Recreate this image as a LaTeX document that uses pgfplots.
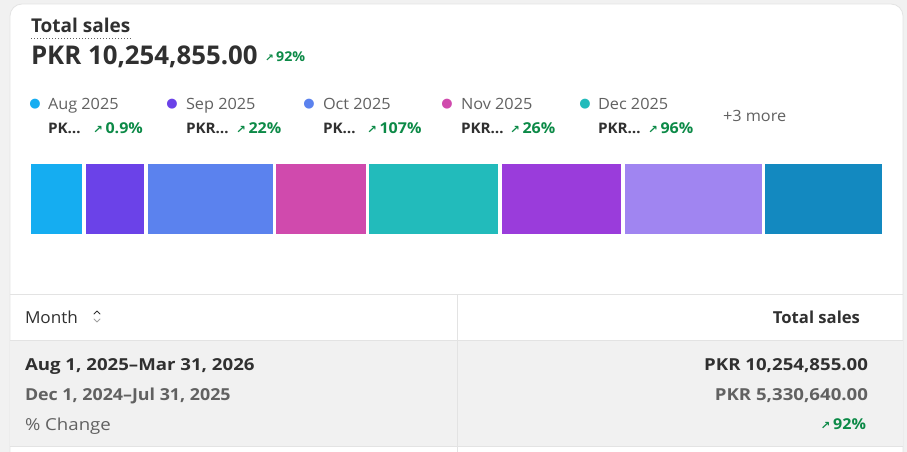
\documentclass[border=0pt]{standalone}
\usepackage{pgfplots}
\pgfplotsset{compat=1.18}
\usepackage{fontspec}
\setmainfont{Open Sans}
\newfontfamily\sym{DejaVu Sans}
\definecolor{bg}{HTML}{F1F1F1}
\definecolor{cardline}{HTML}{E3E3E3}
\definecolor{rowbg}{HTML}{F1F1F1}
\definecolor{txt}{HTML}{303030}
\definecolor{sub}{HTML}{616161}
\definecolor{grn}{HTML}{0C8A47}
\definecolor{cAug}{HTML}{15ADF1}
\definecolor{cSep}{HTML}{6B42E8}
\definecolor{cOct}{HTML}{5B82EE}
\definecolor{cNov}{HTML}{D04AAD}
\definecolor{cDec}{HTML}{22BBBB}
\definecolor{cJan}{HTML}{9A3CDB}
\definecolor{cFeb}{HTML}{A085F1}
\definecolor{cMar}{HTML}{1389C0}
\newcommand\fs[1]{\fontsize{#1}{#1}\selectfont}
\newcommand\up[1]{{\sym\fs{#1}\bfseries ↗}}
\newcommand\ldot[1]{{\sym\fs{13}\color{#1}●}}
\begin{document}
\begin{tikzpicture}[x=1pt,y=-1pt, every node/.style={inner sep=0pt, outer sep=0pt}]
\fill[bg] (0,0) rectangle (907,452);
\begin{scope}
\clip (0,0) rectangle (907,452);
\filldraw[fill=white, draw=cardline, line width=0.8pt, rounded corners=12pt] (10,4) rectangle (903,490);
% table
\fill[rowbg] (10,340) rectangle (903,446);
\draw[cardline, line width=1pt] (10,294) -- (903,294);
\draw[cardline, line width=1pt] (10,340) -- (903,340);
\draw[cardline, line width=1pt] (10,446) -- (903,446);
\draw[cardline, line width=1pt] (457,294) -- (457,452);
\end{scope}
% header
\node[anchor=base west, text=txt, font=\fs{19}\bfseries] at (31,33) {Total sales};
\draw[sub, line width=0.8pt, dash pattern=on 1pt off 2pt] (31,38) -- (131,38);
\node[anchor=base west, text=txt, font=\fs{25.8}\bfseries] at (31,65) {PKR 10,254,855.00};
\node[anchor=base west, text=grn, font=\fs{13.5}\bfseries, xscale=1.05] at (265,61.5) {\up{10}\,92\%};
% legend
\node at (35,104) {\ldot{cAug}};
\node at (172,104) {\ldot{cSep}};
\node at (309,104) {\ldot{cOct}};
\node at (447,104) {\ldot{cNov}};
\node at (585,104) {\ldot{cDec}};
\begin{scope}[every node/.append style={anchor=base west, text=sub, font=\fs{15.5}, xscale=1.05}]
\node at (48,109) {Aug 2025};
\node at (186,109) {Sep 2025};
\node at (323,109) {Oct 2025};
\node at (461,109) {Nov 2025};
\node at (598,109) {Dec 2025};
\node at (723,121.5) {+3 more};
\end{scope}
\begin{scope}[every node/.append style={anchor=base west, text=txt, font=\fs{14.5}\bfseries, xscale=1.05}]
\node at (48,133) {PK…};
\node at (186,133) {PKR…};
\node at (323,133) {PK…};
\node at (461,133) {PKR…};
\node at (598,133) {PKR…};
\end{scope}
\begin{scope}[every node/.append style={anchor=base west, text=grn, font=\fs{15}\bfseries, xscale=1.07}]
\node at (93,133) {\up{11}\,0.9\%};
\node at (236,133) {\up{11}\,22\%};
\node at (367,133) {\up{11}\,107\%};
\node at (510,133) {\up{11}\,26\%};
\node at (648,133) {\up{11}\,96\%};
\end{scope}
% bar
\begin{axis}[at={(29.25pt,-235.75pt)}, anchor=south west, scale only axis,
  width=854.5pt, height=73.5pt, hide axis, clip=false,
  xmin=0, xmax=10255000, ymin=-1, ymax=1,
  xbar stacked, bar width=73.5pt]
\addplot[fill=cAug, draw=white, line width=3.5pt] coordinates {(657000,0)};
\addplot[fill=cSep, draw=white, line width=3.5pt] coordinates {(744000,0)};
\addplot[fill=cOct, draw=white, line width=3.5pt] coordinates {(1542000,0)};
\addplot[fill=cNov, draw=white, line width=3.5pt] coordinates {(1116000,0)};
\addplot[fill=cDec, draw=white, line width=3.5pt] coordinates {(1590000,0)};
\addplot[fill=cJan, draw=white, line width=3.5pt] coordinates {(1476000,0)};
\addplot[fill=cFeb, draw=white, line width=3.5pt] coordinates {(1686000,0)};
\addplot[fill=cMar, draw=white, line width=3.5pt] coordinates {(1444000,0)};
\end{axis}
% table text
\node[anchor=base west, text=txt, font=\fs{16.5}, xscale=1.04] at (25,323) {Month};
\draw[txt, line width=1pt, line cap=round, line join=round] (94,314) -- (97,311) -- (100,314);
\draw[sub!60, line width=1pt, line cap=round, line join=round] (94,319) -- (97,322) -- (100,319);
\node[anchor=base east, text=txt, font=\fs{16.5}\bfseries, xscale=1.01] at (860,323) {Total sales};
\node[anchor=base west, text=txt, font=\fs{16.5}\bfseries, xscale=1.13] at (25,370) {Aug 1, 2025–Mar 31, 2026};
\node[anchor=base west, text=sub, font=\fs{16.5}\bfseries, xscale=1.08] at (25,400) {Dec 1, 2024–Jul 31, 2025};
\node[anchor=base west, text=sub, font=\fs{16.5}, xscale=1.13] at (25,430) {\% Change};
\node[anchor=base east, text=txt, font=\fs{16.5}\bfseries, xscale=1.13] at (868,370) {PKR 10,254,855.00};
\node[anchor=base east, text=sub, font=\fs{16.5}\bfseries, xscale=1.13] at (868,400) {PKR 5,330,640.00};
\node[anchor=base east, text=grn, font=\fs{15}\bfseries, xscale=1.07] at (866,429) {\up{11}\,92\%};
\pgfresetboundingbox
\path[use as bounding box] (0,0) rectangle (907,452);
\end{tikzpicture}
\end{document}
